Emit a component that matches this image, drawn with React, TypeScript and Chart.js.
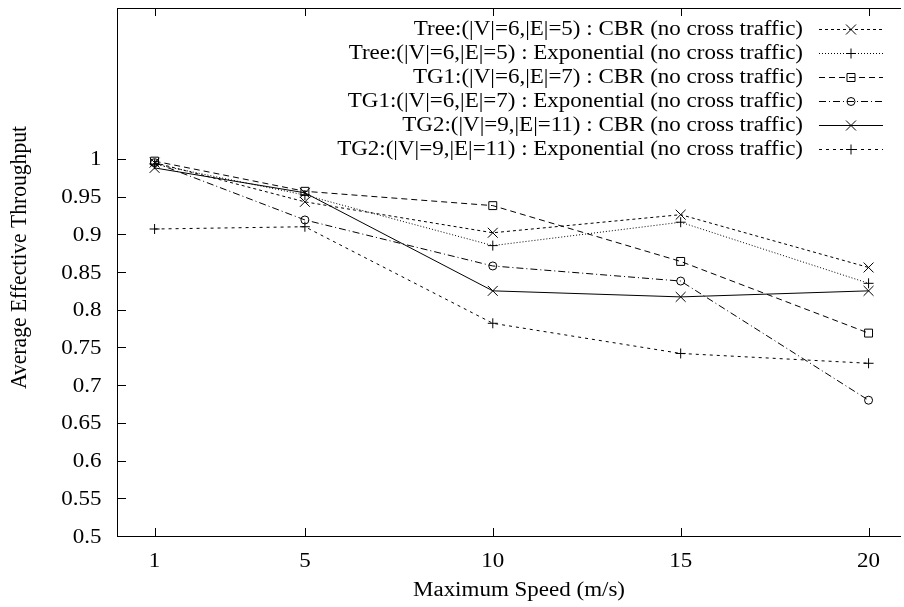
import React, { useEffect, useRef } from 'react';
import { Chart, registerables } from 'chart.js';

Chart.register(...registerables);

const speeds = [1, 5, 10, 15, 20];
const xTickValues = [1, 5, 10, 15, 20];
const xTickLabels = ['1', '5', '10', '15', '20'];
const yTickValues = [0.5, 0.55, 0.6, 0.65, 0.7, 0.75, 0.8, 0.85, 0.9, 0.95, 1];
const yTickLabels = ['0.5', '0.55', '0.6', '0.65', '0.7', '0.75', '0.8', '0.85', '0.9', '0.95', '1'];

const xTitle = 'Maximum Speed (m/s)';
const yTitle = 'Average Effective Throughput';

const seriesLabels = [
  'Tree:(|V|=6,|E|=5) : CBR (no cross traffic)',
  'Tree:(|V|=6,|E|=5) : Exponential (no cross traffic)',
  'TG1:(|V|=6,|E|=7) : CBR (no cross traffic)',
  'TG1:(|V|=6,|E|=7) : Exponential (no cross traffic)',
  'TG2:(|V|=9,|E|=11) : CBR (no cross traffic)',
  'TG2:(|V|=9,|E|=11) : Exponential (no cross traffic)',
];

const treeCBR = [0.995, 0.943, 0.902, 0.926, 0.856];
const treeExp = [0.993, 0.952, 0.885, 0.916, 0.835];
const tg1CBR = [0.997, 0.957, 0.938, 0.864, 0.769];
const tg1Exp = [0.995, 0.919, 0.858, 0.838, 0.680];
const tg2CBR = [0.988, 0.955, 0.825, 0.817, 0.825];
const tg2Exp = [0.907, 0.910, 0.782, 0.742, 0.729];

const seriesValues = [treeCBR, treeExp, tg1CBR, tg1Exp, tg2CBR, tg2Exp];

const dashes: number[][] = [[3, 3], [1, 2], [6, 4], [7, 3, 1, 3], [], [3, 4]];
const markers = ['crossRot', 'cross', 'rect', 'circle', 'crossRot', 'cross'];
const markerRadius = [7, 5, 5.6, 4, 7, 5];

const FONT = '"Liberation Serif", "Times New Roman", serif';
const FS_V = 21.3; // glyph height size
const SX = 23 / 21.3; // horizontal stretch of the original rendering

function drawText(
  ctx: CanvasRenderingContext2D,
  text: string,
  x: number,
  y: number,
  align: CanvasTextAlign,
) {
  ctx.save();
  ctx.translate(x, y);
  ctx.scale(SX, 1);
  ctx.font = `${FS_V}px ${FONT}`;
  ctx.textAlign = align;
  ctx.textBaseline = 'middle';
  ctx.fillStyle = '#000';
  ctx.fillText(text, 0, 0);
  ctx.restore();
}

function drawMarker(ctx: CanvasRenderingContext2D, style: string, x: number, y: number) {
  ctx.beginPath();
  if (style === 'crossRot') {
    const r = 5;
    ctx.moveTo(x - r, y - r); ctx.lineTo(x + r, y + r);
    ctx.moveTo(x - r, y + r); ctx.lineTo(x + r, y - r);
  } else if (style === 'cross') {
    const r = 5;
    ctx.moveTo(x - r, y); ctx.lineTo(x + r, y);
    ctx.moveTo(x, y - r); ctx.lineTo(x, y + r);
  } else if (style === 'rect') {
    ctx.rect(x - 4, y - 4, 8, 8);
  } else if (style === 'circle') {
    ctx.arc(x, y, 4, 0, Math.PI * 2);
  }
  ctx.stroke();
}

const framePlugin = {
  id: 'gnuplotFrame',
  afterDraw(chart: any) {
    const { ctx, chartArea } = chart;
    const xs = chart.scales.x;
    const ys = chart.scales.y;
    const { left, right, top, bottom } = chartArea;
    ctx.save();
    ctx.strokeStyle = '#000';
    ctx.lineWidth = 1;
    ctx.setLineDash([]);
    // frame
    ctx.beginPath();
    ctx.moveTo(left, top + 0.5); ctx.lineTo(right + 5, top + 0.5);
    ctx.moveTo(left + 0.5, top); ctx.lineTo(left + 0.5, bottom);
    ctx.moveTo(left, bottom + 0.5); ctx.lineTo(right + 5, bottom + 0.5);
    ctx.stroke();
    // inward ticks + labels
    ctx.beginPath();
    yTickValues.forEach((v) => {
      const py = Math.round(ys.getPixelForValue(v)) + 0.5;
      ctx.moveTo(left, py); ctx.lineTo(left + 9, py);
    });
    xTickValues.forEach((v) => {
      const px = Math.round(xs.getPixelForValue(v)) + 0.5;
      ctx.moveTo(px, bottom); ctx.lineTo(px, bottom - 8);
      ctx.moveTo(px, top); ctx.lineTo(px, top + 8);
    });
    ctx.stroke();

    yTickValues.forEach((v, i) => {
      drawText(ctx, yTickLabels[i], left - 15.5, ys.getPixelForValue(v) + 1, 'right');
    });
    xTickValues.forEach((v, i) => {
      drawText(ctx, xTickLabels[i], xs.getPixelForValue(v), bottom + 25, 'center');
    });

    // legend
    const rowY0 = 28.5;
    const rowH = 24;
    seriesLabels.forEach((lab, i) => {
      const y = rowY0 + i * rowH;
      drawText(ctx, lab, 803, y + 1, 'right');
      const ly = Math.round(y) + 0.5;
      ctx.setLineDash(dashes[i]);
      ctx.beginPath();
      ctx.moveTo(819, ly);
      ctx.lineTo(883, ly);
      ctx.stroke();
      ctx.setLineDash([]);
      drawMarker(ctx, markers[i], 851, ly);
    });

    // axis titles
    drawText(ctx, xTitle, 519, 590, 'center');
    ctx.save();
    ctx.translate(20, 257.5);
    ctx.rotate(-Math.PI / 2);
    ctx.scale(1, SX);
    ctx.font = `${21.6}px ${FONT}`;
    ctx.textAlign = 'center';
    ctx.textBaseline = 'middle';
    ctx.fillStyle = '#000';
    ctx.fillText(yTitle, 0, 0);
    ctx.restore();
    ctx.restore();
  },
};

export default function App() {
  const canvasRef = useRef<HTMLCanvasElement | null>(null);

  useEffect(() => {
    document.body.style.margin = '0';
    document.body.style.overflow = 'hidden';
    const canvas = canvasRef.current;
    if (!canvas) return;
    const chart = new Chart(canvas, {
      type: 'line',
      data: {
        datasets: seriesValues.map((vals, i) => ({
          label: seriesLabels[i],
          data: speeds.map((s, j) => ({ x: s, y: vals[j] })),
          borderColor: '#000',
          borderWidth: 1,
          borderDash: dashes[i],
          pointStyle: markers[i] as any,
          pointRadius: markerRadius[i],
          pointBorderColor: '#000',
          pointBackgroundColor: 'rgba(0,0,0,0)',
          pointBorderWidth: 1,
          fill: false,
          tension: 0,
        })),
      },
      options: {
        responsive: false,
        animation: false,
        devicePixelRatio: 1,
        layout: { padding: { top: 8, right: 0, left: 0, bottom: 0 } },
        plugins: { legend: { display: false }, tooltip: { enabled: false } },
        scales: {
          x: {
            type: 'linear',
            min: 0,
            max: 20.73,
            grid: { display: false },
            border: { display: false },
            afterBuildTicks: (scale: any) => {
              scale.ticks = xTickValues.map((v) => ({ value: v }));
            },
            afterFit: (scale: any) => {
              scale.height = 71;
            },
            ticks: { display: false },
          },
          y: {
            type: 'linear',
            min: 0.5,
            max: 1.2,
            grid: { display: false },
            border: { display: false },
            afterBuildTicks: (scale: any) => {
              scale.ticks = yTickValues.map((v) => ({ value: v }));
            },
            afterFit: (scale: any) => {
              scale.width = 117;
            },
            ticks: { display: false },
          },
        },
      },
      plugins: [framePlugin],
    });
    return () => chart.destroy();
  }, []);

  return (
    <div style={{ position: 'fixed', left: 0, top: 0, width: 904, height: 607, background: '#fff' }}>
      <canvas ref={canvasRef} width={904} height={607} style={{ width: 904, height: 607, display: 'block' }} />
    </div>
  );
}
